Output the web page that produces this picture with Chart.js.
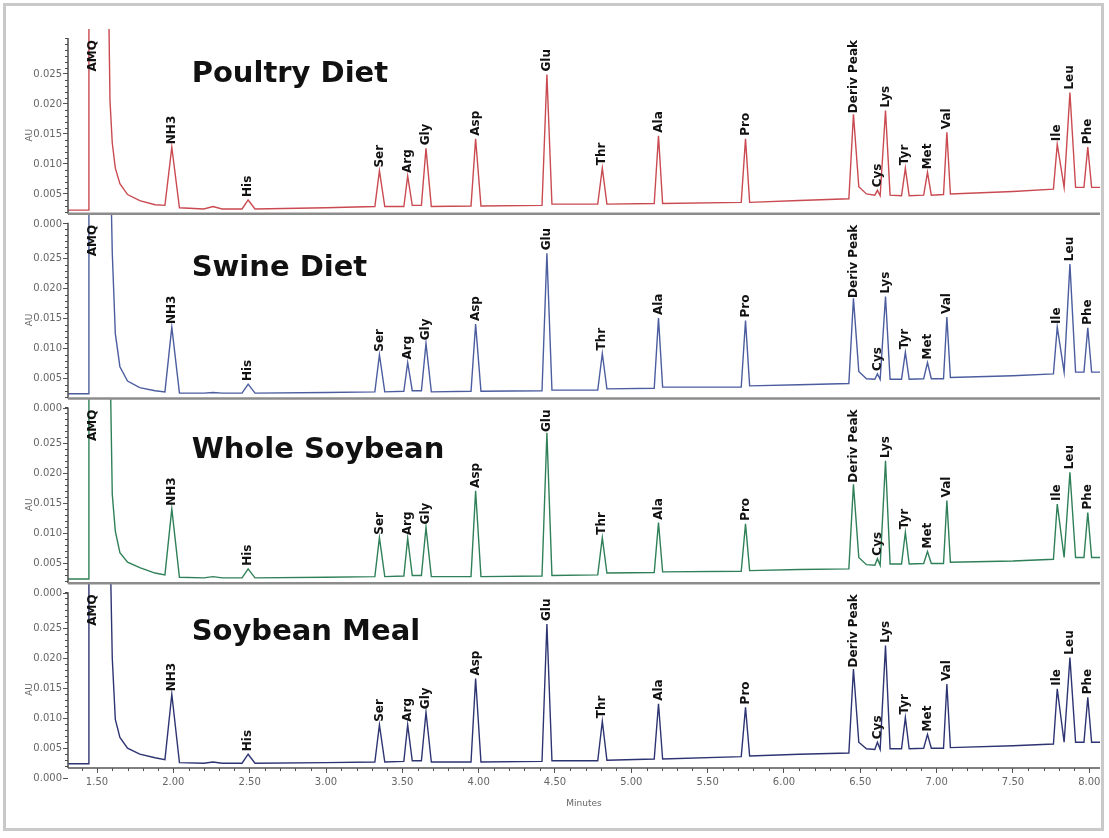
<!DOCTYPE html>
<html>
<head>
<meta charset="utf-8">
<title>Amino acid chromatograms</title>
<script src="https://cdn.jsdelivr.net/npm/chart.js@4"></script>
<style>
    html, body { margin: 0; padding: 0; background: #fff; }
    #frame { position: absolute; left: 3px; top: 3px; width: 1095px; height: 822px; border: 3px solid #c9c9c9; }
    #wrap { position: absolute; left: 0; top: 0; width: 1109px; height: 838px; }
</style>
</head>
<body>
<div id="frame"></div>
<div id="wrap"><canvas id="chromChart" width="1109" height="838"></canvas></div>
<script>
// retention time (minutes) of every trace point, shared by the four runs
const minutes = [
    1.31, 1.443, 1.447, 1.572, 1.585, 1.60, 1.62, 1.65, 1.70, 1.78, 1.88,
    1.945, 1.99, 2.04,
    2.20, 2.26, 2.32,
    2.45, 2.49, 2.535,
    3.00,
    3.32, 3.35, 3.385,
    3.51, 3.535, 3.565, 3.625, 3.655, 3.69,
    3.95, 3.98, 4.015,
    4.415, 4.447, 4.48,
    4.78, 4.81, 4.84,
    5.15, 5.178, 5.205,
    5.72, 5.748, 5.775,
    6.10,
    6.425, 6.455, 6.49, 6.54, 6.595, 6.612, 6.63, 6.665, 6.695,
    6.77, 6.795, 6.82,
    6.915, 6.94, 6.965,
    7.045, 7.067, 7.09,
    7.50, 7.765, 7.79, 7.835, 7.873, 7.91, 7.965, 7.99, 8.015, 8.07
];

// absorbance (AU)
const poultryDiet = [
    0.0023, 0.0023, 0.045, 0.045, 0.0206, 0.0135, 0.0093, 0.0067, 0.0049, 0.0039, 0.0032,
    0.0031, 0.0128, 0.0027,
    0.0025, 0.0029, 0.0025,
    0.0025, 0.0040, 0.0025,
    0.0027,
    0.0029, 0.0089, 0.0029,
    0.0029, 0.0080, 0.0031, 0.0031, 0.0126, 0.0029,
    0.0030, 0.0142, 0.0030,
    0.0031, 0.0249, 0.0033,
    0.0033, 0.0093, 0.0033,
    0.0034, 0.0147, 0.0034,
    0.0036, 0.0142, 0.0036,
    0.0039,
    0.0042, 0.0183, 0.0062, 0.0050, 0.0048, 0.0056, 0.0047, 0.0189, 0.0048,
    0.0047, 0.0093, 0.0047,
    0.0048, 0.0086, 0.0048,
    0.0049, 0.0153, 0.0050,
    0.0054, 0.0058, 0.0133, 0.0061, 0.0219, 0.0061, 0.0061, 0.0128, 0.0061, 0.0061
];
const swineDiet = [
    0.0025, 0.0025, 0.045, 0.045, 0.045, 0.026, 0.0125, 0.0070, 0.0046, 0.0035, 0.0030,
    0.0028, 0.0136, 0.0026,
    0.0026, 0.0027, 0.0026,
    0.0026, 0.0041, 0.0026,
    0.0027,
    0.0028, 0.0090, 0.0028,
    0.0029, 0.0077, 0.0030, 0.0030, 0.0109, 0.0028,
    0.0029, 0.0141, 0.0029,
    0.0030, 0.0259, 0.0031,
    0.0031, 0.0092, 0.0033,
    0.0034, 0.0151, 0.0036,
    0.0036, 0.0147, 0.0038,
    0.0040,
    0.0042, 0.0184, 0.0062, 0.0050, 0.0049, 0.0058, 0.0049, 0.0187, 0.0049,
    0.0049, 0.0094, 0.0049,
    0.0050, 0.0077, 0.0050,
    0.0050, 0.0153, 0.0052,
    0.0055, 0.0058, 0.0136, 0.0061, 0.0241, 0.0061, 0.0061, 0.0135, 0.0061, 0.0061
];
const wholeSoybean = [
    0.0024, 0.0024, 0.045, 0.045, 0.040, 0.0165, 0.0104, 0.0068, 0.0052, 0.0043, 0.0034,
    0.0031, 0.0141, 0.0027,
    0.0026, 0.0028, 0.0026,
    0.0026, 0.0041, 0.0026,
    0.0027,
    0.0028, 0.0093, 0.0028,
    0.0029, 0.0092, 0.0030, 0.0030, 0.0110, 0.0028,
    0.0028, 0.0171, 0.0028,
    0.0029, 0.0268, 0.0030,
    0.0031, 0.0093, 0.0034,
    0.0035, 0.0118, 0.0036,
    0.0037, 0.0116, 0.0038,
    0.0040,
    0.0041, 0.0182, 0.0060, 0.0048, 0.0047, 0.0058, 0.0047, 0.0221, 0.0049,
    0.0049, 0.0102, 0.0049,
    0.0050, 0.0070, 0.0050,
    0.0050, 0.0155, 0.0052,
    0.0054, 0.0057, 0.0149, 0.0060, 0.0202, 0.0060, 0.0060, 0.0135, 0.0060, 0.0060
];
const soybeanMeal = [
    0.0024, 0.0024, 0.045, 0.045, 0.040, 0.020, 0.0098, 0.0068, 0.0050, 0.0040, 0.0034,
    0.0031, 0.0140, 0.0026,
    0.0025, 0.0027, 0.0025,
    0.0025, 0.0040, 0.0025,
    0.0026,
    0.0027, 0.0089, 0.0027,
    0.0028, 0.0089, 0.0029, 0.0029, 0.0110, 0.0027,
    0.0027, 0.0166, 0.0027,
    0.0028, 0.0257, 0.0029,
    0.0029, 0.0095, 0.0030,
    0.0032, 0.0124, 0.0032,
    0.0036, 0.0118, 0.0037,
    0.0040,
    0.0042, 0.0182, 0.0060, 0.0049, 0.0048, 0.0060, 0.0048, 0.0221, 0.0049,
    0.0049, 0.0101, 0.0049,
    0.0050, 0.0073, 0.0050,
    0.0050, 0.0157, 0.0051,
    0.0054, 0.0057, 0.0149, 0.0060, 0.0201, 0.0060, 0.0060, 0.0135, 0.0060, 0.0060
];

const panelNames = ['Poultry Diet', 'Swine Diet', 'Whole Soybean', 'Soybean Meal'];
const peakNames = ['AMQ', 'NH3', 'His', 'Ser', 'Arg', 'Gly', 'Asp', 'Glu', 'Thr', 'Ala', 'Pro',
    'Deriv Peak', 'Cys', 'Lys', 'Tyr', 'Met', 'Val', 'Ile', 'Leu', 'Phe'];
const peakTimes = [1.475, 1.99, 2.49, 3.35, 3.535, 3.655, 3.98, 4.447, 4.81, 5.178, 5.748,
    6.455, 6.612, 6.665, 6.795, 6.94, 7.067, 7.79, 7.873, 7.99];

const auTicks = [0, 0.005, 0.010, 0.015, 0.020, 0.025];
const minuteTicks = [1.5, 2.0, 2.5, 3.0, 3.5, 4.0, 4.5, 5.0, 5.5, 6.0, 6.5, 7.0, 7.5, 8.0];

// ---- layout / style ----
const series = [poultryDiet, swineDiet, wholeSoybean, soybeanMeal];
const axisIds = ['yP', 'yS', 'yW', 'yM'];
const traceColors = ['#c94a50', '#4b5d9f', '#2f8058', '#2d3472'];
const Y_MIN = 0.0017, Y_MAX = 0.0325, Y_TOP = 0.031;
const titleMinute = 2.12;
const titleAU = [0.0237, 0.0222, 0.0225, 0.0230];

Chart.defaults.font.family = '"DejaVu Sans", Verdana, sans-serif';

function nearestIndex(t) {
    let best = 0;
    minutes.forEach((m, i) => { if (Math.abs(m - t) < Math.abs(minutes[best] - t)) best = i; });
    return best;
}

function yAxis() {
    return {
        type: 'linear',
        position: 'left',
        stack: 'panels',
        stackWeight: 1,
        min: Y_MIN,
        max: Y_MAX,
        afterBuildTicks: s => { s.ticks = auTicks.map(v => ({ value: v })); },
        afterFit: s => { s.width = 68; },
        border: { display: false },
        grid: { drawOnChartArea: false, drawTicks: true, tickLength: 5, tickColor: '#555' },
        ticks: {
            autoSkip: false,
            padding: 1,
            color: '#666',
            font: { size: 10 },
            callback: v => Number(v).toFixed(3)
        }
    };
}

// axis lines, separators, minor ticks, panel titles and peak labels
const panelDecor = {
    id: 'panelDecor',
    afterDraw(chart) {
        const ctx = chart.ctx;
        const area = chart.chartArea;
        const xs = chart.scales.x;
        const seg = (x1, y1, x2, y2) => { ctx.beginPath(); ctx.moveTo(x1, y1); ctx.lineTo(x2, y2); ctx.stroke(); };
        ctx.save();

        axisIds.forEach((id, i) => {
            const ys = chart.scales[id];
            const yTop = ys.getPixelForValue(Y_TOP);
            const last = i === axisIds.length - 1;

            ctx.strokeStyle = '#4d4d4d';
            ctx.lineWidth = 1.5;
            seg(area.left, yTop, area.left, ys.bottom);
            ctx.lineWidth = 1;
            for (let k = 2; k <= 31; k++) {
                if (k % 5 === 0 && k !== 30) continue;
                const p = Math.round(ys.getPixelForValue(k / 1000)) + 0.5;
                seg(area.left - 3, p, area.left, p);
            }

            ctx.strokeStyle = last ? '#555' : '#8c8c8c';
            ctx.lineWidth = last ? 1.5 : 2.5;
            seg(area.left, ys.bottom, area.right, ys.bottom);

            // AU
            ctx.save();
            ctx.translate(30, ys.getPixelForValue(0.0148));
            ctx.rotate(-Math.PI / 2);
            ctx.fillStyle = '#666';
            ctx.font = '9px "DejaVu Sans"';
            ctx.textAlign = 'center';
            ctx.textBaseline = 'middle';
            ctx.fillText('AU', 0, 0);
            ctx.restore();

            // panel title
            ctx.fillStyle = '#111';
            ctx.font = 'bold 29px "DejaVu Sans"';
            ctx.textAlign = 'left';
            ctx.textBaseline = 'alphabetic';
            ctx.fillText(panelNames[i], xs.getPixelForValue(titleMinute), ys.getPixelForValue(titleAU[i]));

            // peak labels
            ctx.font = 'bold 12px "DejaVu Sans"';
            const vals = series[i];
            peakNames.forEach((name, j) => {
                const t = peakTimes[j];
                const apex = ys.getPixelForValue(vals[nearestIndex(t)]);
                const w = ctx.measureText(name).width;
                const bottom = Math.max(apex - 3, yTop + 2 + w);
                ctx.save();
                ctx.translate(xs.getPixelForValue(t), bottom);
                ctx.rotate(-Math.PI / 2);
                ctx.textAlign = 'left';
                ctx.textBaseline = 'middle';
                ctx.fillText(name, 0, 0);
                ctx.restore();
            });
        });

        // x minor ticks
        ctx.strokeStyle = '#555';
        ctx.lineWidth = 1;
        for (let k = 14; k <= 80; k++) {
            if (k % 5 === 0) continue;
            const p = Math.round(xs.getPixelForValue(k / 10)) + 0.5;
            seg(p, area.bottom, p, area.bottom + 3);
        }

        ctx.fillStyle = '#666';
        ctx.font = '9px "DejaVu Sans"';
        ctx.textAlign = 'center';
        ctx.textBaseline = 'middle';
        ctx.fillText('Minutes', (area.left + area.right) / 2, 804);
        ctx.restore();
    }
};

const scales = {
    x: {
        type: 'linear',
        position: 'bottom',
        min: 1.31,
        max: 8.07,
        afterBuildTicks: s => { s.ticks = minuteTicks.map(v => ({ value: v })); },
        afterFit: s => { s.height = 70; },
        border: { display: false },
        grid: { drawOnChartArea: false, tickLength: 5, tickColor: '#555' },
        ticks: {
            autoSkip: false,
            maxRotation: 0,
            padding: 3,
            color: '#666',
            font: { size: 10 },
            callback: v => Number(v).toFixed(2)
        }
    }
};
// later stacked axes sit higher, so add the bottom panel first
for (let i = axisIds.length - 1; i >= 0; i--) {
    scales[axisIds[i]] = yAxis();
}

new Chart(document.getElementById('chromChart'), {
    type: 'line',
    data: {
        datasets: series.map((vals, i) => ({
            label: panelNames[i],
            data: minutes.map((m, k) => ({ x: m, y: vals[k] })),
            yAxisID: axisIds[i],
            borderColor: traceColors[i],
            borderWidth: 1.4,
            pointRadius: 0,
            tension: 0
        }))
    },
    options: {
        responsive: false,
        animation: false,
        devicePixelRatio: 1,
        layout: { padding: { top: 29, right: 9, left: 0, bottom: 0 } },
        scales: scales,
        plugins: {
            legend: { display: false },
            tooltip: { enabled: false }
        }
    },
    plugins: [panelDecor]
});
</script>
</body>
</html>
